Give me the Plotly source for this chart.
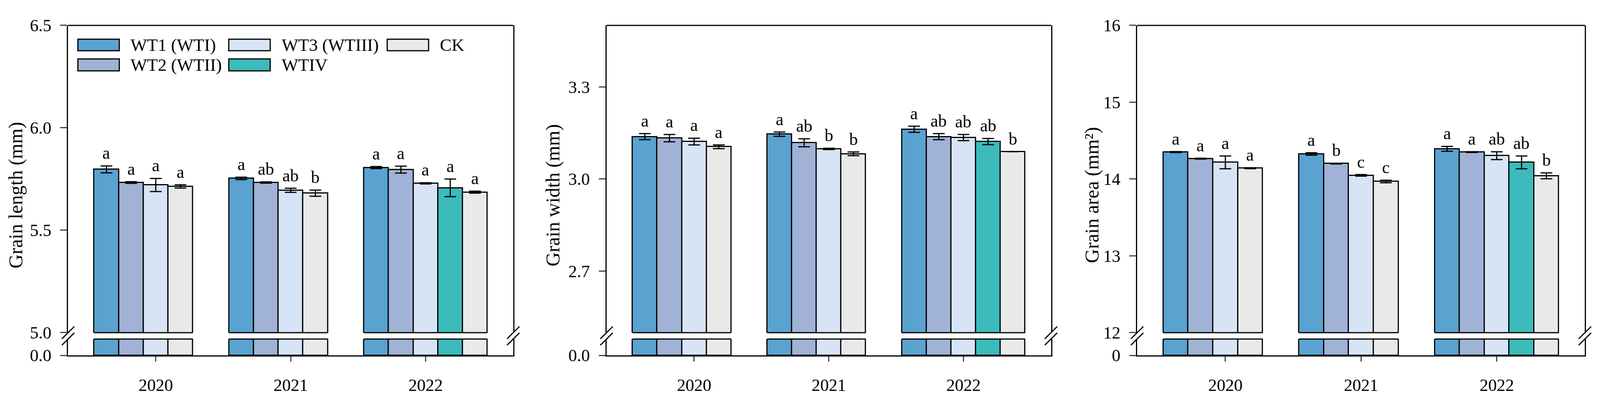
import plotly.graph_objects as go

# ---------------- data ----------------
years = ["2020", "2021", "2022"]
series = ["WT1 (WTI)", "WT2 (WTII)", "WT3 (WTIII)", "WTIV", "CK"]
colors = ["#5AA2D0", "#A0B2D6", "#D7E4F5", "#3BBBBC", "#E9E9E9"]

# Grain length (mm); rows follow `series`, columns follow `years`
length_mean = [[5.797, 5.753, 5.806],
               [5.733, 5.733, 5.796],
               [5.721, 5.695, 5.729],
               [None, None, 5.707],
               [5.714, 5.681, 5.686]]
length_err = [[0.017, 0.006, 0.005],
              [0.004, 0.003, 0.017],
              [0.032, 0.010, 0.003],
              [None, None, 0.043],
              [0.008, 0.015, 0.005]]
length_sig = [["a", "a", "a"],
              ["a", "ab", "a"],
              ["a", "ab", "a"],
              [None, None, "a"],
              ["a", "b", "a"]]

# Grain width (mm)
width_mean = [[3.138, 3.146, 3.162],
              [3.133, 3.118, 3.138],
              [3.122, 3.098, 3.135],
              [None, None, 3.122],
              [3.105, 3.082, 3.089]]
width_err = [[0.010, 0.007, 0.010],
             [0.012, 0.013, 0.010],
             [0.011, 0.002, 0.010],
             [None, None, 0.010],
             [0.006, 0.006, 0.0]]
width_sig = [["a", "a", "a"],
             ["a", "ab", "ab"],
             ["a", "b", "ab"],
             [None, None, "ab"],
             ["a", "b", "b"]]

# Grain area (mm2)
area_mean = [[14.351, 14.326, 14.393],
             [14.265, 14.201, 14.351],
             [14.217, 14.048, 14.304],
             [None, None, 14.217],
             [14.141, 13.968, 14.042]]
area_err = [[0.006, 0.016, 0.032],
            [0.006, 0.005, 0.005],
            [0.083, 0.010, 0.051],
            [None, None, 0.083],
            [0.006, 0.016, 0.038]]
area_sig = [["a", "a", "a"],
            ["a", "b", "a"],
            ["a", "c", "ab"],
            [None, None, "ab"],
            ["a", "c", "b"]]

y_titles = ["Grain length (mm)", "Grain width (mm)", "Grain area (mm²)"]
upper_ranges = [[5.0, 6.5], [2.5, 3.5], [12, 16]]
upper_ticks = [[5.0, 5.5, 6.0, 6.5], [2.7, 3.0, 3.3], [12, 13, 14, 15, 16]]
tick_formats = [".1f", ".1f", "d"]
zero_labels = ["0.0", "0.0", "0"]

# ---------------- layout geometry (reference pixels) ----------------
RW, RH = 4252, 1036          # reference frame used for fractions
FIG_W, FIG_H = 4096, 1036    # browser viewport actually available
def fx(px):
    return px / RW
def fy(py):
    return 1 - py / RH

panel_x = [(181, 1364), (1612, 2793), (3022, 4212)]
title_x = [42, 1469, 2902]
UP_BOT, UP_TOP = 868, 43
LO_BOT, LO_TOP = 929, 885
BW = 0.183
XR = [-0.65, 2.65]
FONT = "Liberation Serif, Times New Roman, serif"
LW = 3
SLASH = 16.5   # half-size of the break marks (px)

means = [length_mean, width_mean, area_mean]
errs = [length_err, width_err, area_err]
sigs = [length_sig, width_sig, area_sig]

fig = go.Figure()
layout = dict(width=FIG_W, height=FIG_H, margin=dict(l=0, r=0, t=0, b=0),
              paper_bgcolor="white", plot_bgcolor="white",
              showlegend=False, bargap=0, barmode="overlay",
              font=dict(family=FONT, size=42, color="black"))
shapes = []
annotations = []

for p in range(3):
    xid = "x" if p == 0 else f"x{p+1}"
    ylo = "y" if p == 0 else f"y{p+1}"
    yup = f"y{p+4}"
    mean, err, sig = means[p], errs[p], sigs[p]

    # present series fill consecutive slots of a 5-slot group centred on the year
    pos = [[None] * 3 for _ in series]
    for j in range(3):
        present = [i for i in range(len(series)) if mean[i][j] is not None]
        for k, i in enumerate(present):
            pos[i][j] = j + (k - 2) * BW

    for i, name in enumerate(series):
        idx = [j for j in range(3) if mean[i][j] is not None]
        if not idx:
            continue
        xs = [pos[i][j] for j in idx]
        ys = [mean[i][j] for j in idx]
        es = [err[i][j] for j in idx]
        ss = [sig[i][j] for j in idx]
        mk = dict(color=colors[i], line=dict(color="black", width=LW))
        fig.add_trace(go.Bar(x=xs, y=ys, width=BW, marker=mk, name=name,
                             xaxis=xid, yaxis=yup,
                             error_y=dict(type="data", array=es, color="black",
                                          thickness=LW, width=15)))
        fig.add_trace(go.Bar(x=xs, y=ys, width=BW, marker=mk, name=name,
                             xaxis=xid, yaxis=ylo))
        for x, y, e, s in zip(xs, ys, es, ss):
            annotations.append(dict(x=x, y=y + e, xref=xid, yref=yup, text=s,
                                    showarrow=False, yanchor="bottom", yshift=6,
                                    font=dict(size=44, family=FONT)))

    # outline of each bar group on both sides of the axis break
    for j in range(3):
        xs = [pos[i][j] for i in range(len(series)) if pos[i][j] is not None]
        x0, x1 = min(xs) - BW / 2, max(xs) + BW / 2
        for py in (UP_BOT, LO_TOP):
            shapes.append(dict(type="line", xref=xid, yref="paper", x0=x0, x1=x1,
                               y0=fy(py), y1=fy(py), line=dict(color="black", width=LW)))

    px0, px1 = panel_x[p]
    dom = [fx(px0), fx(px1)]
    axkey = "xaxis" if p == 0 else f"xaxis{p+1}"
    lokey = "yaxis" if p == 0 else f"yaxis{p+1}"
    upkey = f"yaxis{p+4}"
    layout[axkey] = dict(domain=dom, range=XR, anchor=ylo, tickvals=[0, 1, 2],
                         ticktext=years, ticks="outside", ticklen=13, tickwidth=LW,
                         showline=True, linewidth=LW, linecolor="black",
                         showgrid=False, zeroline=False, fixedrange=True,
                         ticklabelstandoff=22, tickfont=dict(size=44))
    layout[lokey] = dict(domain=[fy(LO_BOT), fy(LO_TOP)], range=[0, 1], anchor=xid,
                         tickvals=[0], ticktext=[zero_labels[p]], ticks="outside",
                         ticklen=17, tickwidth=LW, showline=True, mirror=True,
                         linewidth=LW, linecolor="black", showgrid=False,
                         zeroline=False, ticklabelstandoff=14, tickfont=dict(size=44))
    layout[upkey] = dict(domain=[fy(UP_BOT), fy(UP_TOP)], range=upper_ranges[p],
                         anchor=xid, tickvals=upper_ticks[p], tickformat=tick_formats[p],
                         ticks="outside", ticklen=17, tickwidth=LW, showline=True,
                         mirror=True, linewidth=LW, linecolor="black", showgrid=False,
                         zeroline=False, ticklabelstandoff=14, tickfont=dict(size=44))

    # top frame line
    shapes.append(dict(type="line", xref="paper", yref="paper", x0=dom[0], x1=dom[1],
                       y0=fy(UP_TOP), y1=fy(UP_TOP), line=dict(color="black", width=LW)))
    # "//" break marks on both vertical axes
    for axpx in (px0, px1):
        for cy in (UP_BOT, LO_TOP):
            shapes.append(dict(type="line", xref="paper", yref="paper",
                               x0=fx(axpx - SLASH), y0=fy(cy + SLASH),
                               x1=fx(axpx + SLASH), y1=fy(cy - SLASH),
                               line=dict(color="black", width=LW)))
    # y-axis title
    annotations.append(dict(x=fx(title_x[p]), y=fy(499), xref="paper", yref="paper",
                            text=y_titles[p], textangle=-90, showarrow=False,
                            xanchor="center", yanchor="middle",
                            font=dict(size=50, family=FONT)))

# ---------------- legend (inside panel 1, column-major) ----------------
legend_cols = [[0, 1], [2, 3], [4]]
col_x = [207, 608, 1029]
row_y = [(80, 111), (133, 165)]
for c, items in enumerate(legend_cols):
    for r, i in enumerate(items):
        y0, y1 = row_y[r]
        shapes.append(dict(type="rect", xref="paper", yref="paper",
                           x0=fx(col_x[c]), x1=fx(col_x[c] + 110),
                           y0=fy(y1), y1=fy(y0), fillcolor=colors[i],
                           line=dict(color="black", width=LW)))
        annotations.append(dict(x=fx(col_x[c] + 138), y=fy((y0 + y1) / 2),
                                xref="paper", yref="paper", text=series[i],
                                showarrow=False, xanchor="left", yanchor="middle",
                                font=dict(size=45, family=FONT)))

layout["shapes"] = shapes
layout["annotations"] = annotations
fig.update_layout(**layout)

fit_js = """
document.body.style.margin = '0';
document.body.style.overflow = 'hidden';
var gd = document.getElementById('{plot_id}');
if (window.innerWidth && Math.abs(window.innerWidth - gd._fullLayout.width) > 2) {
  Plotly.relayout(gd, {width: window.innerWidth});
}
"""
fig.write_html("out.html", post_script=fit_js, config={"displayModeBar": False})
